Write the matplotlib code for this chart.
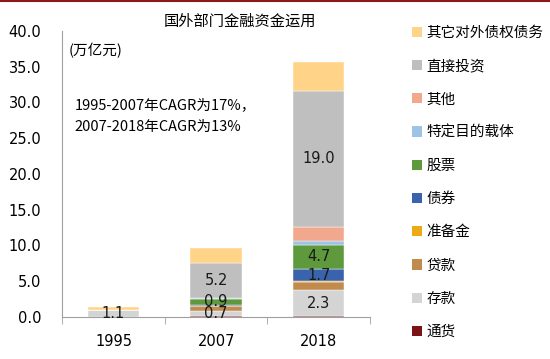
import matplotlib
matplotlib.use("Agg")
import matplotlib.pyplot as plt
from matplotlib.patches import Patch
from matplotlib.lines import Line2D
import numpy as np

plt.rcParams['font.family'] = ['Noto Sans CJK SC', 'DejaVu Sans']

years = ['1995', '2007', '2018']
# stacked bottom -> top
series = ['通货', '存款', '贷款', '准备金', '债券', '股票', '特定目的载体', '其他', '直接投资', '其它对外债权债务']
colors = ['#7B1416', '#D4D4D4', '#C28B4E', '#EDAA16', '#3A63AE', '#5E9A3C', '#9DC3E6', '#F2A88C', '#BFBFBF', '#FFD388']

tonghuo = [0.0, 0.2, 0.1]
cunkuan = [1.0, 0.6, 3.7]
daikuan = [0.0, 0.7, 1.1]
zhunbei = [0.0, 0.1, 0.1]
zhaiquan = [0.0, 0.1, 1.7]
gupiao = [0.0, 0.8, 3.4]
spv = [0.0, 0.1, 0.5]
qita = [0.0, 0.0, 2.0]
zhijie = [0.0, 5.0, 19.0]
qita_zq = [0.4, 2.0, 4.1]
values = [tonghuo, cunkuan, daikuan, zhunbei, zhaiquan, gupiao, spv, qita, zhijie, qita_zq]

# data labels shown on the chart, by series
labels = {
    '存款': ['1.1', '0.7', '2.3'],
    '债券': ['', '', '1.7'],
    '股票': ['', '0.9', '4.7'],
    '直接投资': ['', '5.2', '19.0'],
}

fig = plt.figure(figsize=(5.5, 3.59), dpi=100)
ax = fig.add_axes([0.113, 0.117, 0.56, 0.797])

x = np.arange(len(years))
bottom = np.zeros(len(years))
for name, vals, c in zip(series, values, colors):
    bars = ax.bar(x, vals, 0.5, bottom=bottom, color=c, edgecolor='white', linewidth=0.3, label=name)
    if name in labels:
        ax.bar_label(bars, labels=labels[name], label_type='center', fontsize=10.5,
                     family=['DejaVu Sans'], color='#1a1a1a')
    bottom += np.array(vals)

ax.set_xlim(-0.5, 2.5)
ax.set_ylim(0, 40)
ax.set_yticks(np.arange(0, 41, 5))
ax.set_yticklabels(['%.1f' % v for v in np.arange(0, 41, 5)], fontsize=10.5, family=['DejaVu Sans'])
ax.set_xticks(x)
ax.set_xticklabels(years, fontsize=10.5, family=['DejaVu Sans'])
ax.tick_params(axis='y', length=0, pad=15)
ax.tick_params(axis='x', length=0, pad=12)
ax.set_xticks([-0.5, 0.5, 1.5, 2.5], minor=True)
ax.tick_params(axis='x', which='minor', length=5, color='#a0a0a0')
for s in ['top', 'right']:
    ax.spines[s].set_visible(False)
ax.spines['left'].set_color('#a0a0a0')
ax.spines['bottom'].set_color('#a0a0a0')

ax.text(0.02, 0.93, '(万亿元)', transform=ax.transAxes, fontsize=10.5, style='italic', va='center')
ax.text(0.04, 0.74, '1995-2007年CAGR为17%，', transform=ax.transAxes, fontsize=10.5, va='center')
ax.text(0.04, 0.665, '2007-2018年CAGR为13%', transform=ax.transAxes, fontsize=10.5, va='center')

fig.text(0.437, 0.94, '国外部门金融资金运用', fontsize=11, ha='center', va='center')

handles = [Patch(facecolor=c, label=n) for n, c in zip(series, colors)][::-1]
fig.legend(handles=handles, loc='upper left', bbox_to_anchor=(0.749, 0.928), frameon=False,
           borderpad=0, borderaxespad=0, fontsize=10.5, handlelength=0.7, handleheight=0.7,
           handletextpad=0.3, labelspacing=1.32)

fig.add_artist(Line2D([0, 1], [0.997, 0.997], color='#8B1A1A', linewidth=1.5, transform=fig.transFigure))

fig.savefig('out.png', dpi=100)
